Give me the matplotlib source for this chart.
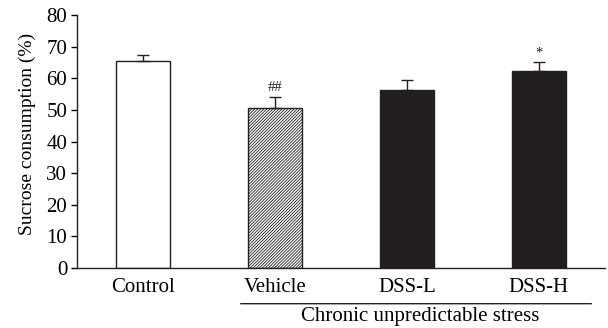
import matplotlib
matplotlib.use("Agg")
import matplotlib.pyplot as plt

groups = ["Control", "Vehicle", "DSS-L", "DSS-H"]
means = [65.5, 50.5, 56.2, 62.4]
errors = [1.8, 3.7, 3.3, 2.8]
marks = ["", "##", "", "*"]
bracket_label = "Chronic unpredictable stress"

plt.rcParams["font.family"] = ["Liberation Serif", "DejaVu Serif"]
plt.rcParams["hatch.linewidth"] = 0.6

fig = plt.figure(figsize=(6.08, 3.28), dpi=100)
ax = fig.add_axes([0.1266, 0.183, 0.868, 0.771])

x = list(range(len(groups)))
faces = ["white", "white", "#231f20", "#231f20"]
hatches = [None, "/" * 11, None, None]
for xi, m, e, fc, h in zip(x, means, errors, faces, hatches):
    ax.bar(xi, m, width=0.41, color=fc, edgecolor="#231f20", linewidth=1.0,
           hatch=h, zorder=2)
    ax.errorbar(xi, m, yerr=[[0], [e]], fmt="none", ecolor="#231f20",
                elinewidth=1.0, capsize=4.5, capthick=1.0, zorder=3)

for xi, m, e, t in zip(x, means, errors, marks):
    if t:
        ax.text(xi, m + e + 0.8, t, ha="center", va="bottom", fontsize=10.5,
                color="#231f20")

ax.set_xlim(-0.5, 3.5)
ax.set_ylim(0, 80)
ax.set_yticks(range(0, 81, 10))
ax.set_xticks(x)
ax.set_xticklabels(groups)
ax.tick_params(axis="x", length=0, pad=7, labelsize=15)
ax.tick_params(axis="y", length=4, width=1.0, labelsize=15, pad=3)
for s in ["top", "right"]:
    ax.spines[s].set_visible(False)
for s in ["left", "bottom"]:
    ax.spines[s].set_linewidth(1.0)
    ax.spines[s].set_color("#231f20")
ax.set_ylabel("Sucrose consumption (%)", fontsize=14)
ax.yaxis.set_label_coords(-0.077, 0.53)

# bracket under the stressed groups
ax.annotate("", xy=(0.72, -11.3), xytext=(3.42, -11.3), xycoords="data",
            arrowprops=dict(arrowstyle="-", lw=1.0, color="#231f20"),
            annotation_clip=False)
ax.text(2.1, -12.3, bracket_label, ha="center", va="top", fontsize=15,
        clip_on=False)

fig.savefig("out.png", dpi=100)
